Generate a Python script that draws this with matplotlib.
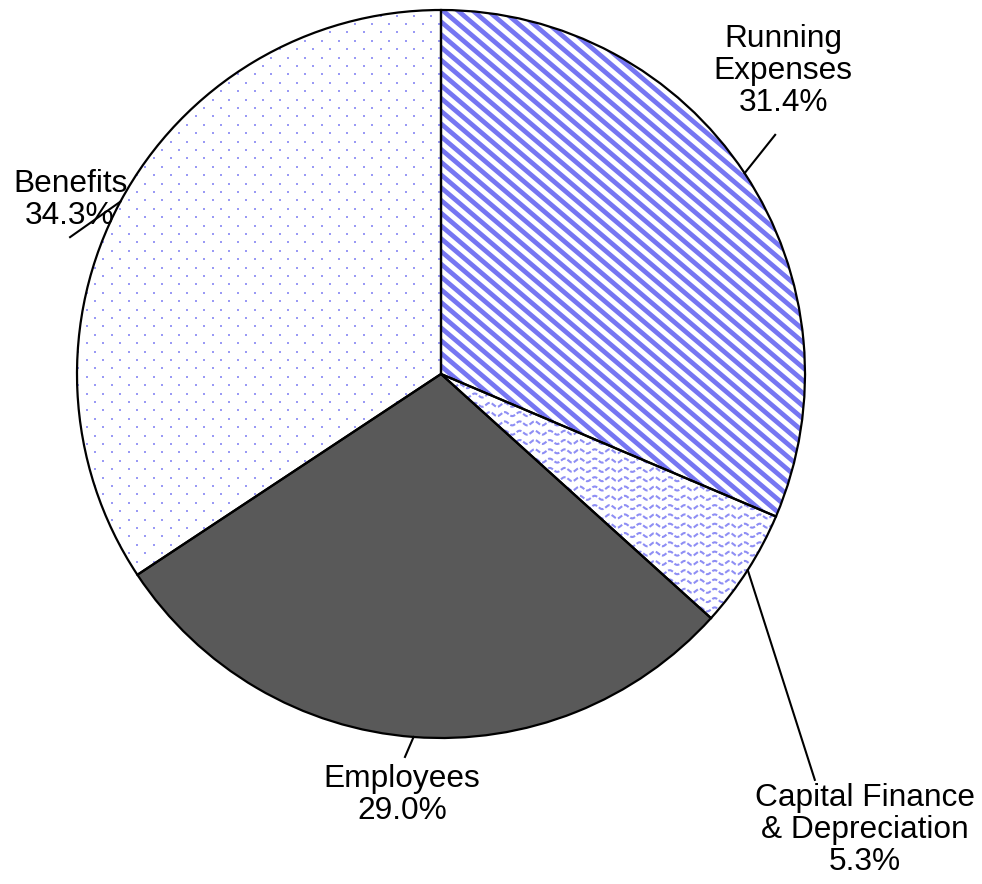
import numpy as np
import matplotlib.pyplot as plt

plt.rcParams['font.family'] = ['Liberation Sans', 'DejaVu Sans']

# data
labels = ['Running\nExpenses', 'Capital Finance\n& Depreciation', 'Employees', 'Benefits']
shares = [31.4, 5.3, 29.0, 34.3]
fills = ['white', 'white', '#595959', 'white']

# label placement (data units, pie radius = 1)
label_xy = [(0.94, 0.832), (1.165, -1.253), (-0.107, -1.157), (-1.019, 0.478)]
leader_end = [(0.918, 0.657), (1.027, -1.115), (-0.099, -1.052), (-1.019, 0.376)]

fig = plt.figure(figsize=(9.82, 8.84), dpi=100)
ax = fig.add_axes([77 / 982, 146 / 884, 728 / 982, 728 / 884])

wedges, _ = ax.pie(shares, startangle=90, counterclock=False, radius=1,
                   colors=fills,
                   wedgeprops=dict(edgecolor='none', zorder=1))

px = 2 / 728  # one pixel in data units

# diagonal stripes for running expenses
slope = -0.85
for c in np.arange(-2.5, 2.5, 15 * px * 0.85):
    ln, = ax.plot([-1.5, 1.5], [slope * -1.5 + c, slope * 1.5 + c],
                  color='#7676f2', lw=3.4, solid_capstyle='butt', zorder=2)
    ln.set_clip_path(wedges[0])

# wavy pattern for capital finance
xs = np.linspace(0.0, 1.05, 1200)
for y0 in np.arange(-0.8, 0.05, 9.3 * px):
    ln, = ax.plot(xs, y0 + 2.0 * px * np.sin(2 * np.pi * xs / (15 * px)),
                  color='#8e8ef4', lw=1.5, ls=(0, (2.5, 1)), zorder=2)
    ln.set_clip_path(wedges[1])

# dotted pattern for benefits
dx = 16.8 * px
gx, gy = [], []
for i, y in enumerate(np.arange(-0.7, 1.02, dx / 2)):
    off = 0 if i % 2 == 0 else dx / 2
    for x in np.arange(-1.02 + off, 0.02, dx):
        gx.append(x)
        gy.append(y)
dots = ax.scatter(gx, gy, s=3, color='#9a9af5', marker='s', lw=0, zorder=2)
dots.set_clip_path(wedges[3])

# wedge outlines on top of patterns
ax.pie(shares, startangle=90, counterclock=False, radius=1,
       colors=['none'] * 4,
       wedgeprops=dict(edgecolor='black', linewidth=1.6, zorder=3))
ax.set_xlim(-1, 1)
ax.set_ylim(-1, 1)
ax.set_aspect('equal')
ax.axis('off')

# leader lines and labels
start = 90.0
for lab, val, (tx, ty), (ex, ey) in zip(labels, shares, label_xy, leader_end):
    mid = np.deg2rad(start - val * 3.6 / 2)
    start -= val * 3.6
    ax.plot([np.cos(mid), ex], [np.sin(mid), ey], color='black', lw=1.5,
            clip_on=False, zorder=4)
    ax.text(tx, ty, f'{lab}\n{val:.1f}%', ha='center', va='center',
            fontsize=22.8, linespacing=1.1, zorder=5)

fig.savefig('out.png', dpi=100)
